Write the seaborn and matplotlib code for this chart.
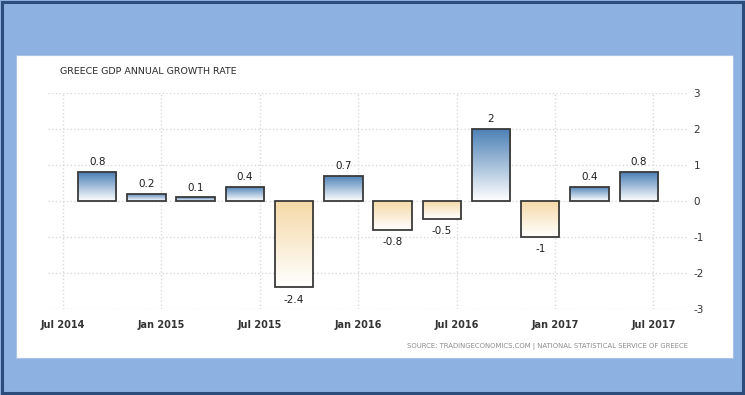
import matplotlib
matplotlib.use("Agg")
import matplotlib.pyplot as plt
import seaborn as sns
import pandas as pd
import numpy as np
from matplotlib.colors import LinearSegmentedColormap
from matplotlib.patches import Rectangle

# quarterly GDP annual growth, Q3 2014 .. Q2 2017
quarters = ["2014Q3", "2014Q4", "2015Q1", "2015Q2", "2015Q3", "2015Q4",
            "2016Q1", "2016Q2", "2016Q3", "2016Q4", "2017Q1", "2017Q2"]
growth = [0.8, 0.2, 0.1, 0.4, -2.4, 0.7, -0.8, -0.5, 2, -1, 0.4, 0.8]
# bar position in months after Jul 2014
month_pos = [2.1 + 3 * i for i in range(len(quarters))]
tick_months = [0, 6, 12, 18, 24, 30, 36]
tick_labels = ["Jul 2014", "Jan 2015", "Jul 2015", "Jan 2016",
               "Jul 2016", "Jan 2017", "Jul 2017"]

df = pd.DataFrame({"quarter": quarters, "month": month_pos, "growth": growth})

sns.set_style("white")
plt.rcParams["font.family"] = ["DejaVu Sans"]
plt.rcParams["axes.unicode_minus"] = False

fig = plt.figure(figsize=(7.45, 3.95), dpi=100, facecolor="#8db1e1")
fig.patches.append(Rectangle((0.003, 0.004), 0.994, 0.992, transform=fig.transFigure,
                             facecolor="none", edgecolor="#2c4c7c", lw=2.2, zorder=-2))
fig.patches.append(Rectangle((0.0215, 0.0937), 0.9624, 0.767, transform=fig.transFigure,
                             facecolor="white", edgecolor="#a9c3e6", lw=0.8, zorder=-1))

ax = fig.add_axes([0.0644, 0.2177, 0.859, 0.547])
ax.set_facecolor("none")

sns.barplot(data=df, x="month", y="growth", native_scale=True, width=0.78,
            color="white", edgecolor="#3a3a3a", linewidth=1.3, ax=ax, zorder=3)

blue = LinearSegmentedColormap.from_list("pos", ["#ffffff", "#4a7fb5"])
tan = LinearSegmentedColormap.from_list("neg", ["#ffffff", "#f5d9a6"])
grad = np.linspace(0, 1, 256).reshape(-1, 1)
for bar, v in zip(ax.patches, growth):
    x0, y0 = bar.get_x(), bar.get_y()
    w, h = bar.get_width(), bar.get_height()
    bar.set_facecolor("none")
    bar.set_joinstyle("miter")
    ylo, yhi = min(y0, y0 + h), max(y0, y0 + h)
    cmap = blue if v >= 0 else tan
    im = ax.imshow(grad, cmap=cmap, aspect="auto", origin="lower",
                   extent=[x0, x0 + w, ylo, yhi], zorder=2)
    im.set_clip_path(bar)
    xc = x0 + w / 2
    if v >= 0:
        ax.text(xc, v + 0.13, f"{v:g}", ha="center", va="bottom",
                fontsize=7.5, color="#1e1e1e")
    else:
        ax.text(xc, v - 0.2, f"{v:g}", ha="center", va="top",
                fontsize=7.5, color="#1e1e1e")

ax.set_xlim(-0.9, 38.1)
ax.set_ylim(-3, 3)
ax.set_xticks(tick_months)
ax.set_xticklabels(tick_labels, fontsize=7, fontweight="bold", color="#333333")
ax.set_yticks(range(-3, 4))
ax.yaxis.tick_right()
ax.tick_params(axis="y", length=0, pad=4, labelsize=7.5, labelcolor="#333333")
ax.tick_params(axis="x", length=4, width=0.8, color="#dddddd", pad=4)
ax.set_xlabel("")
ax.set_ylabel("")
ax.grid(True, linestyle=":", color="#dadada", linewidth=1)
ax.set_axisbelow(True)
for s in ax.spines.values():
    s.set_visible(False)

fig.text(60 / 745, 1 - 71 / 395, "GREECE GDP ANNUAL GROWTH RATE",
         fontsize=6.8, color="#2a2a2a", va="center", ha="left")
fig.text(688 / 745, 1 - 346 / 395,
         "SOURCE: TRADINGECONOMICS.COM | NATIONAL STATISTICAL SERVICE OF GREECE",
         fontsize=4.95, color="#8c8c8c", va="center", ha="right")

fig.savefig("out.png", dpi=100, facecolor=fig.get_facecolor())
